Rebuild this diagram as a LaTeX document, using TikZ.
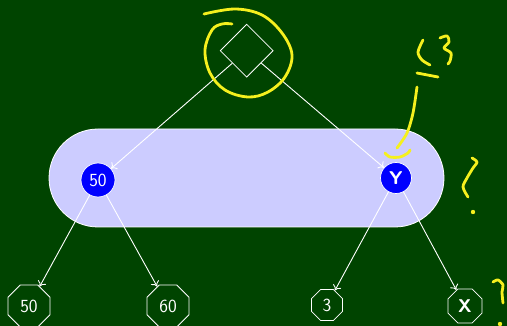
\documentclass[tikz,border=0pt]{standalone}
\usepackage{fontspec}
\usetikzlibrary{shapes.geometric,arrows.meta}
\definecolor{board}{RGB}{0,68,0}
\definecolor{band}{RGB}{204,204,255}
\definecolor{chalk}{RGB}{245,240,30}
\begin{document}
\begin{tikzpicture}[x=1pt,y=-1pt,
  font=\sffamily\fontsize{18.5}{21}\selectfont,
  edge/.style={white, line width=0.9pt, -{To[length=5pt,width=9pt]}},
  keynode/.style={circle, fill=blue, draw=white, line width=0.7pt, text=white, inner sep=0pt},
  leaf/.style={regular polygon, regular polygon sides=8, draw=white, line width=0.8pt, text=white, inner sep=0pt},
  scribble/.style={chalk, line width=2.8pt, line cap=round, line join=round}]
  % board
  \fill[board] (0,0) rectangle (507,326);
  \useasboundingbox (0,0) rectangle (507,326);

  % highlighted level
  \node[draw=white, fill=band, line width=0.8pt, rounded corners=49pt,
        minimum width=395pt, minimum height=98pt, inner sep=0pt] (lvl) at (246.5,178) {};

  % tree
  \node[diamond, draw=white, line width=0.8pt, minimum width=53pt, minimum height=53pt, inner sep=0pt] (root) at (246.7,50.7) {};
  \node[keynode, minimum size=34pt] (a) at (98,180) {50};
  \node[keynode, minimum size=31pt] (b) at (396,178) {\bfseries Y};
  \node[leaf, minimum size=45.5pt] (l1) at (29,306) {50};
  \node[leaf, minimum size=45.5pt] (l2) at (168,306) {60};
  \node[leaf, minimum size=33.5pt] (l3) at (327,305) {3};
  \node[leaf, minimum size=37pt] (l4) at (465,306) {\bfseries X};

  \draw[edge] (root) -- (a);
  \draw[edge] (root) -- (b);
  \draw[edge] (a) -- (l1);
  \draw[edge] (a) -- (l2);
  \draw[edge] (b) -- (l3);
  \draw[edge] (b) -- (l4);

  % hand annotations
  \draw[scribble] plot[smooth, tension=0.6] coordinates {(204,14) (235,9) (262,15) (282,33) (292,55) (285,77) (268,92) (248,97) (225,90) (210,73) (205,50) (212,30) (222,24) (232,24)};
  \draw[scribble] plot[smooth] coordinates {(423,40) (418,52) (422,60) (430,65)};
  \draw[scribble] plot[smooth, tension=0.5] coordinates {(440,38) (447,36) (449,42) (444,48) (451,53) (450,61) (448,64)};
  \draw[scribble] (417,73) -- (438,77);
  \draw[scribble] plot[smooth] coordinates {(417,87) (413,113) (407,133) (397,148)};
  \draw[scribble] plot[smooth] coordinates {(385,153) (390,157) (400,157) (408,153) (410,150)};
  \draw[scribble] plot[smooth] coordinates {(472,158) (477,162) (473,168) (467,178) (463,187) (468,197)};
  \fill[chalk] (473,212) circle (2.2pt);
  \draw[scribble] plot[smooth] coordinates {(493,282) (498,280) (503,285) (502,292) (503,303)};
  \fill[chalk] (500,324) circle (2.2pt);
\end{tikzpicture}
\end{document}
